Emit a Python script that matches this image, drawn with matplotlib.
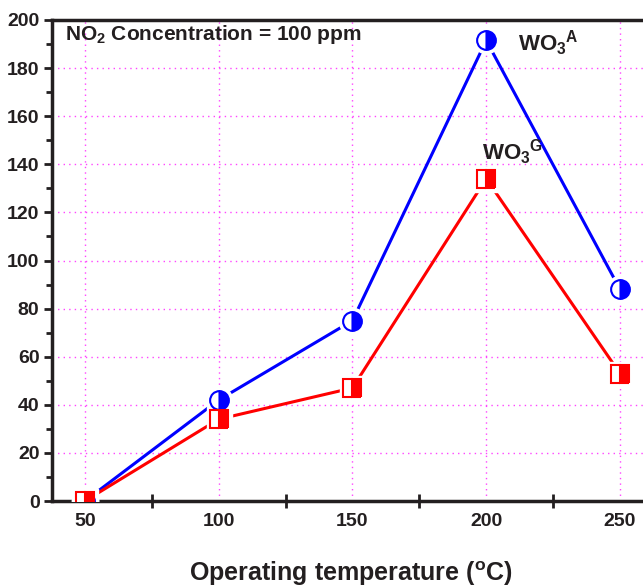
import numpy as np
import matplotlib.pyplot as plt
from matplotlib.ticker import MultipleLocator

temps = [50, 100, 150, 200, 250]
wo3_a = [0, 42, 75, 191.5, 88]
wo3_g = [0, 34, 47, 134, 53]

fam = 'Liberation Sans'
plt.rcParams['font.family'] = [fam, 'DejaVu Sans']
plt.rcParams['font.weight'] = 'bold'
plt.rcParams['mathtext.fontset'] = 'custom'
plt.rcParams['mathtext.rm'] = fam + ':bold'
plt.rcParams['mathtext.bf'] = fam + ':bold'
plt.rcParams['mathtext.it'] = fam + ':bold'

txt = '#231f20'
fig = plt.figure(figsize=(6.43, 5.87), dpi=100)
ax = fig.add_axes([52/643, 86/587, 1.0 - 52/643 + 0.01, 481/587])

ax.grid(True, color='#ff44ff', linestyle=(0, (1, 3)), linewidth=1.0)
ax.set_axisbelow(True)

for y, c, m in [(wo3_a, 'blue', 'o'), (wo3_g, 'red', 's')]:
    ax.plot(temps, y, color=c, linewidth=2.2, zorder=3)
    ax.plot(temps, y, linestyle='none', marker=m, markersize=19 if m == 'o' else 18,
            markerfacecolor='white', markeredgecolor='white', zorder=4)
    ax.plot(temps, y, linestyle='none', marker=m, markersize=13.5 if m == 'o' else 12.5,
            fillstyle='right', markerfacecolor=c, markerfacecoloralt='white',
            markeredgecolor=c, markeredgewidth=1.5, zorder=5)

ax.set_xlim(37.7, 261)
ax.set_ylim(0, 200)
ax.set_xticks(temps)
ax.xaxis.set_minor_locator(MultipleLocator(25))
ax.yaxis.set_major_locator(MultipleLocator(20))
ax.yaxis.set_minor_locator(MultipleLocator(10))

for s in ['left', 'bottom', 'top']:
    ax.spines[s].set_linewidth(2.5)
    ax.spines[s].set_color(txt)
ax.spines['right'].set_visible(False)

ax.tick_params(axis='x', which='major', length=0, pad=9, labelsize=14, labelcolor=txt)
ax.tick_params(axis='x', which='minor', direction='inout', length=10, width=2, color=txt)
ax.tick_params(axis='y', which='major', direction='out', length=6, width=2, labelsize=14,
               color=txt, labelcolor=txt, pad=3)
ax.tick_params(axis='y', which='minor', direction='out', length=4, width=2, color=txt)
ax.grid(False, which='minor')
for lab in ax.get_xticklabels() + ax.get_yticklabels():
    lab.set_fontweight('bold')

ax.set_xlabel(r'Operating temperature ($^\mathregular{o}$C)', fontsize=18, fontweight='bold',
              color=txt, labelpad=21)

ax.text(42.5, 194, r'NO$_\mathbf{2}$ Concentration = 100 ppm', fontsize=15, fontweight='bold',
        color=txt, va='center', ha='left')
ax.text(212, 190.5, r'WO$_\mathbf{3}$$^\mathbf{A}$', fontsize=16, fontweight='bold',
        color=txt, va='center', ha='left')
ax.text(198.5, 145, r'WO$_\mathbf{3}$$^\mathbf{G}$', fontsize=16, fontweight='bold',
        color=txt, va='center', ha='left')

fig.savefig('out.png', dpi=100)
